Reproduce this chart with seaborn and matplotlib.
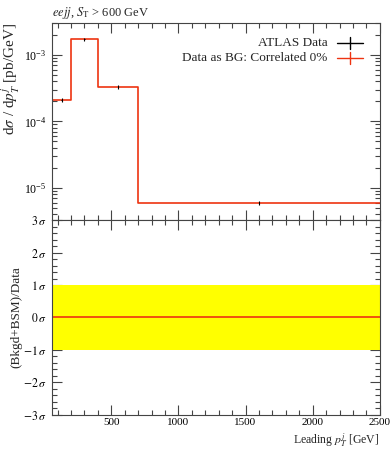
import numpy as np
import pandas as pd
import matplotlib
matplotlib.use("Agg")
import matplotlib.pyplot as plt
from matplotlib.ticker import LogLocator, MultipleLocator, NullFormatter, FixedLocator
import seaborn as sns

# bins of leading jet pT [GeV]
bin_edges = [60, 200, 400, 700, 2500]
data_vals = [2.1e-4, 1.7e-3, 3.3e-4, 6.0e-6]   # ATLAS data
data_errs = [1.2e-5, 8.0e-5, 2.0e-5, 4.0e-7]
bg_vals = [2.1e-4, 1.7e-3, 3.3e-4, 6.0e-6]     # Data as BG: Correlated 0%
ratio_vals = [0.0, 0.0, 0.0, 0.0]
band_lo = [-1.0, -1.0, -1.0, -1.0]
band_hi = [1.0, 1.0, 1.0, 1.0]

centers = [(a + b) / 2 for a, b in zip(bin_edges[:-1], bin_edges[1:])]

sns.set_theme(style="ticks")
plt.rcParams['font.family'] = ['Liberation Serif', 'DejaVu Serif']
plt.rcParams['mathtext.fontset'] = 'stix'
plt.rcParams['axes.edgecolor'] = '#444444'
plt.rcParams['xtick.color'] = '#444444'
plt.rcParams['ytick.color'] = '#444444'
plt.rcParams['xtick.labelcolor'] = 'black'
plt.rcParams['ytick.labelcolor'] = 'black'

fig = plt.figure(figsize=(3.92, 4.5), dpi=100)
ax1 = fig.add_axes([0.133, 0.511, 0.836, 0.438])
ax2 = fig.add_axes([0.133, 0.078, 0.836, 0.433], sharex=ax1)

red = '#EE3311'

# --- main panel ---
step_df = pd.DataFrame({'x': bin_edges, 'y': bg_vals + [bg_vals[-1]]})
sns.lineplot(data=step_df, x='x', y='y', drawstyle='steps-post', color=red,
             linewidth=1.2, ax=ax1, sort=False)
ax1.errorbar(centers, data_vals, yerr=data_errs, fmt='none', ecolor='black',
             elinewidth=0.8, capsize=0)
ax1.errorbar(centers, data_vals, xerr=[3] * 4, fmt='none', ecolor='black',
             elinewidth=0.8, capsize=0)
ax1.set_yscale('log')
ax1.set_ylim(3.3e-6, 3.0e-3)
ax1.set_xlim(bin_edges[0], bin_edges[-1])
ax1.yaxis.set_major_locator(LogLocator(base=10, numticks=10))
ax1.yaxis.set_minor_locator(LogLocator(base=10, subs=np.arange(2, 10), numticks=20))
ax1.yaxis.set_minor_formatter(NullFormatter())
ax1.set_ylabel(r'd$\sigma$ / d$p_T^j$ [pb/GeV]', fontsize=11, ha='right')
ax1.yaxis.set_label_coords(-0.091, 1.0)
ax1.set_xlabel('')
ax1.tick_params(axis='x', labelbottom=False)
ax1.set_title(r'$eejj$, $S_\mathrm{T}$ > 600 GeV', loc='left', fontsize=9, pad=5)

# legend drawn by hand to get right-aligned labels
leg_items = [('ATLAS Data', 'black', 0.898), ('Data as BG: Correlated 0%', red, 0.822)]
for label, col, yy in leg_items:
    ax1.text(0.841, yy, label, transform=ax1.transAxes, ha='right', va='center',
             fontsize=9.5)
    ax1.plot([0.869, 0.948], [yy, yy], color=col, lw=1.0, transform=ax1.transAxes)
    ax1.plot([0.9085, 0.9085], [yy - 0.03, yy + 0.03], color=col, lw=1.0,
             transform=ax1.transAxes)

# --- ratio panel ---
band_df = pd.DataFrame({'x': bin_edges, 'lo': band_lo + [band_lo[-1]],
                        'hi': band_hi + [band_hi[-1]]})
ax2.fill_between(band_df['x'], band_df['lo'], band_df['hi'], step='post',
                 color='#FFFF00', linewidth=0)
ratio_df = pd.DataFrame({'x': bin_edges, 'y': ratio_vals + [ratio_vals[-1]]})
sns.lineplot(data=ratio_df, x='x', y='y', drawstyle='steps-post', color=red,
             linewidth=1.2, ax=ax2, sort=False)
ax2.set_ylim(-3, 3)
ax2.yaxis.set_minor_locator(MultipleLocator(0.2))
sig_ticks = [-3, -2, -1, 0, 1, 2, 3]
ax2.yaxis.set_major_locator(FixedLocator(sig_ticks))
ax2.set_yticklabels([rf'${t}\,\sigma$' for t in sig_ticks])
ax2.set_ylabel('(Bkgd+BSM)/Data', fontsize=9.5)
ax2.yaxis.set_label_coords(-0.091, 0.5)
ax2.set_xlabel(r'Leading $p_T^j$ [GeV]', fontsize=8.5, ha='right', va='top')
ax2.xaxis.set_label_coords(1.0, -0.082)
ax2.xaxis.set_major_locator(MultipleLocator(500))
ax2.xaxis.set_minor_locator(MultipleLocator(100))

for ax in (ax1, ax2):
    ax.tick_params(which='both', direction='in', top=True, right=True,
                   labelsize=8.5, width=0.8, pad=4)
    ax.tick_params(which='major', length=7)
    ax.tick_params(which='minor', length=3.5)
    for s in ax.spines.values():
        s.set_linewidth(0.8)
ax2.tick_params(axis='x', pad=2.5, labelsize=8)

fig.savefig('out.png', dpi=100)
